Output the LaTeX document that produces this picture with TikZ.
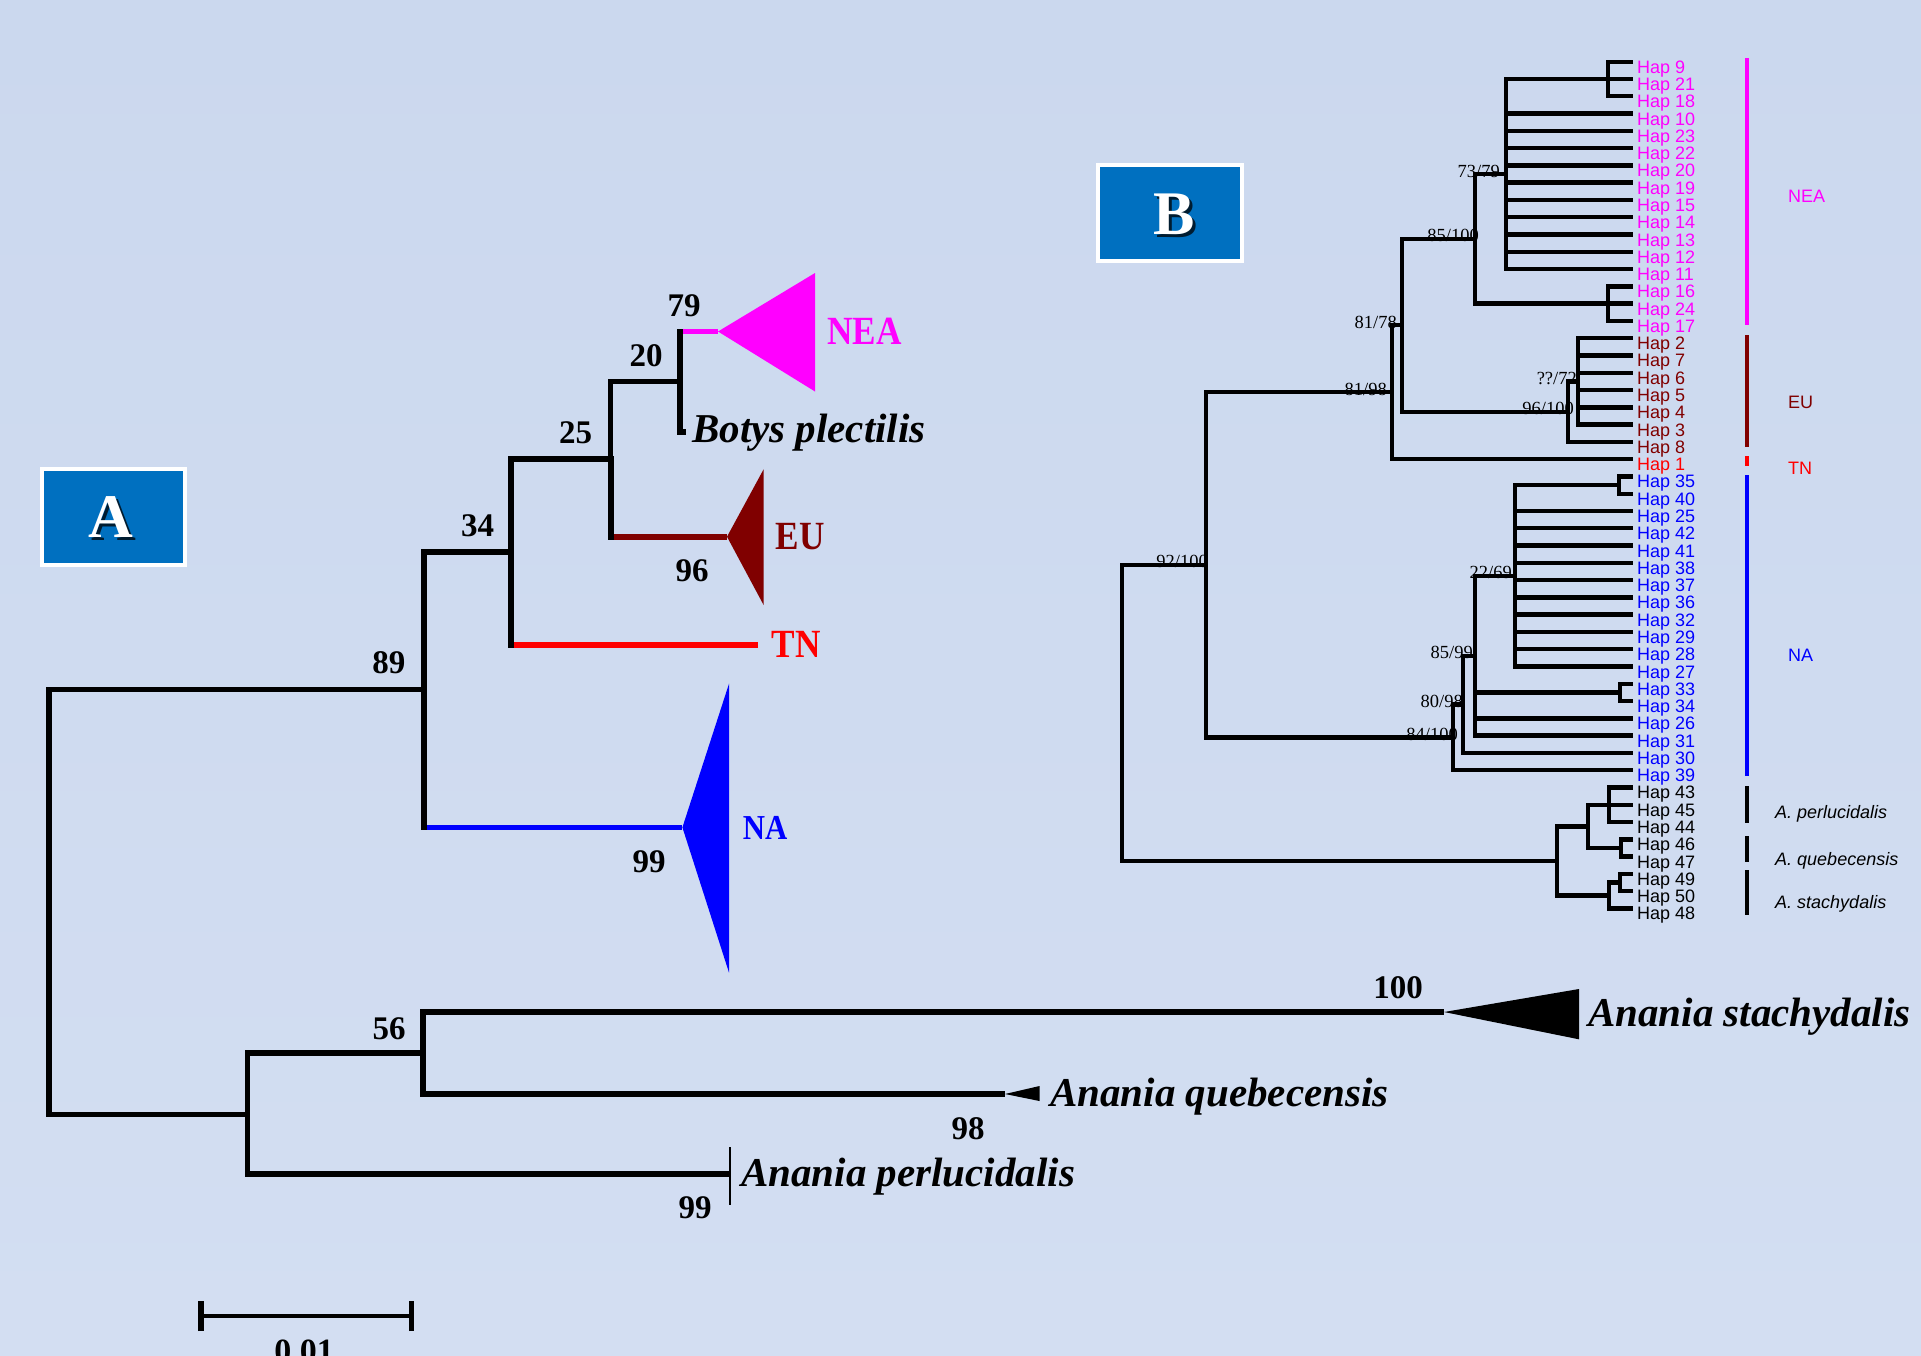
\documentclass[tikz,border=0pt]{standalone}
\usepackage{fontspec}
\setmainfont{Liberation Serif}
\newfontfamily\hapfont{Liberation Sans}
\newfontfamily\condfont[FakeStretch=0.88]{Liberation Serif}
\definecolor{bgtop}{RGB}{203,216,238}
\definecolor{bgbot}{RGB}{211,222,242}
\definecolor{boxblue}{RGB}{0,112,192}
\definecolor{neacol}{RGB}{255,0,255}
\definecolor{eucol}{RGB}{128,0,0}
\definecolor{tncol}{RGB}{255,0,0}
\definecolor{nacol}{RGB}{0,0,255}
\tikzset{
  hap/.style={font=\hapfont\fontsize{18}{18}\selectfont, inner sep=0pt, anchor=base west},
  grplab/.style={font=\hapfont\fontsize{18}{18}\selectfont, inner sep=0pt, anchor=base west},
  grpital/.style={font=\hapfont\itshape\fontsize{18}{18}\selectfont, inner sep=0pt, anchor=base west},
  bsup/.style={font=\fontsize{18.5}{18.5}\selectfont, inner sep=0pt, anchor=base east},
  anum/.style={font=\bfseries\fontsize{33}{33}\selectfont, inner sep=0pt},
  clade/.style={font=\condfont\bfseries\fontsize{40}{40}\selectfont, inner sep=0pt},
  species/.style={font=\bfseries\itshape\fontsize{41}{41}\selectfont, inner sep=0pt, anchor=base west},
  brA/.style={line width=5.7pt, line join=miter},
  brAv/.style={line width=6pt, line cap=rect},
  brB/.style={line width=4.4pt, line join=miter},
  grpbar/.style={line width=4pt},
  panelbox/.style={draw=white, line width=4pt, fill=boxblue, minimum width=143pt, minimum height=96pt, inner sep=0pt},
  plabel/.style={font=\bfseries\fontsize{62}{62}\selectfont, text=white, inner sep=0pt},
  pshadow/.style={font=\bfseries\fontsize{62}{62}\selectfont, text=black, opacity=0.75, inner sep=0pt},
}
\begin{document}
\begin{tikzpicture}[x=1pt,y=-1pt]
\shade[top color=bgtop, bottom color=bgbot] (0,0) rectangle (1921,1355);
\useasboundingbox (0,0) rectangle (1921,1355);
\clip (0,0) rectangle (1921,1355);

% ================= Panel A =================
\node[panelbox] (boxA) at (113.5,517) {};
\node[pshadow] (shA) at (114,520.5) {A};
\node[plabel] (labA) at (111,517.5) {A};

\coordinate (aR) at (49,901.7);
\coordinate (a89) at (424,689.5);
\coordinate (a34) at (511,552.2);
\coordinate (a25) at (610.5,459.2);
\coordinate (a20) at (680,381.4);
\coordinate (aNEA) at (718,331.5);
\coordinate (aNEAt) at (815,273);
\coordinate (aNEAb) at (815,391.5);
\coordinate (aBot) at (686,432.3);
\coordinate (aEU) at (727,536.7);
\coordinate (aEUt) at (763.6,469.3);
\coordinate (aEUb) at (763.6,605);
\coordinate (aTN) at (757.5,645);
\coordinate (aNA) at (682.4,827.4);
\coordinate (aNAt) at (729,683.7);
\coordinate (aNAb) at (729,972.6);
\coordinate (aL) at (247.4,1114.4);
\coordinate (a56) at (423,1053);
\coordinate (aST) at (1444,1012);
\coordinate (aSTt) at (1579,989);
\coordinate (aSTb) at (1579,1039.3);
\coordinate (aQU) at (1005,1094);
\coordinate (aQUt) at (1039.5,1086);
\coordinate (aQUb) at (1039.5,1101);
\coordinate (aPE) at (730,1174);
\coordinate (aPEt) at (730,1147);
\coordinate (aPEb) at (730,1205);

% coloured terminal branches
\draw[line width=5.7pt, neacol] (a20 |- aNEA) -- (aNEA);
\draw[line width=5.7pt, eucol] (a25 |- aEU) -- (aEU);
\draw[line width=5.7pt, tncol] (a34 |- aTN) -- (aTN);
\draw[line width=5.7pt, nacol] (a89 |- aNA) -- (aNA);
\fill[neacol] (aNEA) -- (aNEAt) -- (aNEAb) -- cycle;
\fill[eucol] (aEU) -- (aEUt) -- (aEUb) -- cycle;
\fill[nacol] (aNA) -- (aNAt) -- (aNAb) -- cycle;
\fill[black] (aST) -- (aSTt) -- (aSTb) -- cycle;
\fill[black] (aQU) -- (aQUt) -- (aQUb) -- cycle;

% black parts
\draw[brAv] (a20) -- (a20 |- aNEA);
\draw[brAv] (a25) -- (a25 |- aEU);
\draw[brAv] (a34) -- (a34 |- aTN);
\draw[brAv] (a89) -- (a89 |- aNA);
\draw[brA] (aR) |- (a89);
\draw[brA] (aR) |- (aL);
\draw[brA] (a89) |- (a34);
\draw[brA] (a34) |- (a25);
\draw[brA] (a25) |- (a20);
\draw[brA] (a20) |- (aBot);
\draw[brA] (aL) |- (a56);
\draw[brA] (a56) |- (aST);
\draw[brA] (a56) |- (aQU);
\draw[brA] (aL) |- (aPE);
\draw[line width=2.5pt] (aPEt) -- (aPEb);

% support values A
\node[anum] (s79) at (684,305.7) {79};
\node[anum] (s20) at (646,355.7) {20};
\node[anum] (s25) at (575.6,432.7) {25};
\node[anum] (s34) at (477.6,525.7) {34};
\node[anum] (s89) at (388.9,662.3) {89};
\node[anum] (s96) at (692,571) {96};
\node[anum] (s99a) at (649,862) {99};
\node[anum] (s56) at (389,1029) {56};
\node[anum] (s100) at (1398,988) {100};
\node[anum] (s98) at (968,1129) {98};
\node[anum] (s99b) at (695,1207.5) {99};

% clade labels A
\node[clade, text=neacol] (cNEA) at (864.7,331.7) {NEA};
\node[clade, text=eucol] (cEU) at (800,536.7) {EU};
\node[clade, text=tncol] (cTN) at (796,644) {TN};
\node[clade, text=nacol, font=\condfont\bfseries\fontsize{35}{35}\selectfont] (cNA) at (765,828) {NA};

\node[species] (nBot) at (692,442) {Botys plectilis};
\node[species] (nSta) at (1588,1026.7) {Anania stachydalis};
\node[species] (nQue) at (1050,1106) {Anania quebecensis};
\node[species] (nPer) at (741,1186) {Anania perlucidalis};

% scale bar
\coordinate (sbL) at (201,1316);
\coordinate (sbR) at (411.7,1316);
\draw[line width=4.5pt] (sbL) -- (sbR);
\draw[line width=5.5pt] ([yshift=-15pt]sbL) -- ([yshift=15pt]sbL);
\draw[line width=5.5pt] ([yshift=-15pt]sbR) -- ([yshift=15pt]sbR);
\node[anum, anchor=base, font=\bfseries\fontsize{34}{34}\selectfont] (sbT) at (304,1362) {0.01};

% ================= Panel B =================
\node[panelbox, minimum width=144pt] (boxB) at (1170,213.3) {};
\node[pshadow] (shB) at (1177,217.5) {B};
\node[plabel] (labB) at (1174,214) {B};

% support labels B (drawn below lines)
\node[bsup] (b7379) at (1500,177.0) {73/79};
\node[bsup] (b85100) at (1479,241.8) {85/100};
\node[bsup] (b8178) at (1397,328.2) {81/78};
\node[bsup] (b8198) at (1387,395.2) {81/98};
\node[bsup] (b92100) at (1208,567.7) {92/100};
\node[bsup] (b7272) at (1577,384.4) {??/72};
\node[bsup] (b96100) at (1574,414.7) {96/100};
\node[bsup] (b2269) at (1512,578.8) {22/69};
\node[bsup] (b8599) at (1473,658.7) {85/99};
\node[bsup] (b8098) at (1463,707.3) {80/98};
\node[bsup] (b84100) at (1458,740.3) {84/100};

% leaves
\foreach \i/\h/\c in {0/9/neacol,1/21/neacol,2/18/neacol,3/10/neacol,4/23/neacol,5/22/neacol,6/20/neacol,7/19/neacol,8/15/neacol,9/14/neacol,10/13/neacol,11/12/neacol,12/11/neacol,13/16/neacol,14/24/neacol,15/17/neacol,
16/2/eucol,17/7/eucol,18/6/eucol,19/5/eucol,20/4/eucol,21/3/eucol,22/8/eucol,
23/1/tncol,
24/35/nacol,25/40/nacol,26/25/nacol,27/42/nacol,28/41/nacol,29/38/nacol,30/37/nacol,31/36/nacol,32/32/nacol,33/29/nacol,34/28/nacol,35/27/nacol,36/33/nacol,37/34/nacol,38/26/nacol,39/31/nacol,40/30/nacol,41/39/nacol,
42/43/black,43/45/black,44/44/black,45/46/black,46/47/black,47/49/black,48/50/black,49/48/black}{
  \coordinate (L\i) at (1633,{61.7+17.28*\i});
  \node[hap, text=\c] (T\i) at (1637,{61.7+17.28*\i+11.5}) {Hap \h};
}

% internal nodes
\coordinate (nA) at (1608,79.0);
\coordinate (nB) at (1506,174.0);
\coordinate (nC) at (1608,303.6);
\coordinate (nD) at (1475,238.8);
\coordinate (nE) at (1578,381.4);
\coordinate (nF) at (1568,411.7);
\coordinate (nG) at (1402,325.2);
\coordinate (nH) at (1392,392.2);
\coordinate (nI) at (1619,485.1);
\coordinate (nJ) at (1515,575.8);
\coordinate (nK) at (1620,692.4);
\coordinate (nL) at (1475,655.7);
\coordinate (nM) at (1463,704.3);
\coordinate (nN) at (1453,737.3);
\coordinate (nO) at (1206,564.7);
\coordinate (nP) at (1609,804.8);
\coordinate (nQ) at (1621,848.0);
\coordinate (nR) at (1588,826.4);
\coordinate (nS) at (1620,882.5);
\coordinate (nT) at (1609,895.5);
\coordinate (nU) at (1557,861.0);
\coordinate (nV) at (1122,712.9);

\foreach \p/\c in {nA/L0,nA/L1,nA/L2,
  nB/nA,nB/L3,nB/L4,nB/L5,nB/L6,nB/L7,nB/L8,nB/L9,nB/L10,nB/L11,nB/L12,
  nC/L13,nC/L14,nC/L15,nD/nB,nD/nC,
  nE/L16,nE/L17,nE/L18,nE/L19,nE/L20,nE/L21,nF/nE,nF/L22,
  nG/nD,nG/nF,nH/nG,nH/L23,
  nI/L24,nI/L25,nJ/nI,nJ/L26,nJ/L27,nJ/L28,nJ/L29,nJ/L30,nJ/L31,nJ/L32,nJ/L33,nJ/L34,nJ/L35,
  nK/L36,nK/L37,nL/nJ,nL/nK,nL/L38,nL/L39,nM/nL,nM/L40,nN/nM,nN/L41,
  nO/nH,nO/nN,
  nP/L42,nP/L43,nP/L44,nQ/L45,nQ/L46,nR/nP,nR/nQ,nS/L47,nS/L48,nT/nS,nT/L49,nU/nR,nU/nT,
  nV/nO,nV/nU}{
  \draw[brB] (\p) |- (\c);
}

% group bars
\coordinate (gNEAa) at (1747,58.3);   \coordinate (gNEAb) at (1747,325);
\coordinate (gEUa) at (1747,335);     \coordinate (gEUb) at (1747,447.3);
\coordinate (gTNa) at (1747,456);     \coordinate (gTNb) at (1747,466);
\coordinate (gNAa) at (1747,475);     \coordinate (gNAb) at (1747,776);
\coordinate (gPEa) at (1747,786);     \coordinate (gPEb) at (1747,823);
\coordinate (gQUa) at (1747,836);     \coordinate (gQUb) at (1747,862);
\coordinate (gSTa) at (1747,870);     \coordinate (gSTb) at (1747,915);
\draw[grpbar, neacol] (gNEAa) -- (gNEAb);
\draw[grpbar, eucol] (gEUa) -- (gEUb);
\draw[grpbar, tncol] (gTNa) -- (gTNb);
\draw[grpbar, nacol] (gNAa) -- (gNAb);
\draw[grpbar] (gPEa) -- (gPEb);
\draw[grpbar] (gQUa) -- (gQUb);
\draw[grpbar] (gSTa) -- (gSTb);

\node[grplab, text=neacol] (gNEA) at (1788,202.3) {NEA};
\node[grplab, text=eucol] (gEU) at (1788,408.3) {EU};
\node[grplab, text=tncol] (gTN) at (1788,474.3) {TN};
\node[grplab, text=nacol] (gNA) at (1788,661) {NA};
\node[grpital] (gPE) at (1775,818) {A. perlucidalis};
\node[grpital] (gQU) at (1775,865) {A. quebecensis};
\node[grpital] (gST) at (1775,908.3) {A. stachydalis};
\end{tikzpicture}
\end{document}
